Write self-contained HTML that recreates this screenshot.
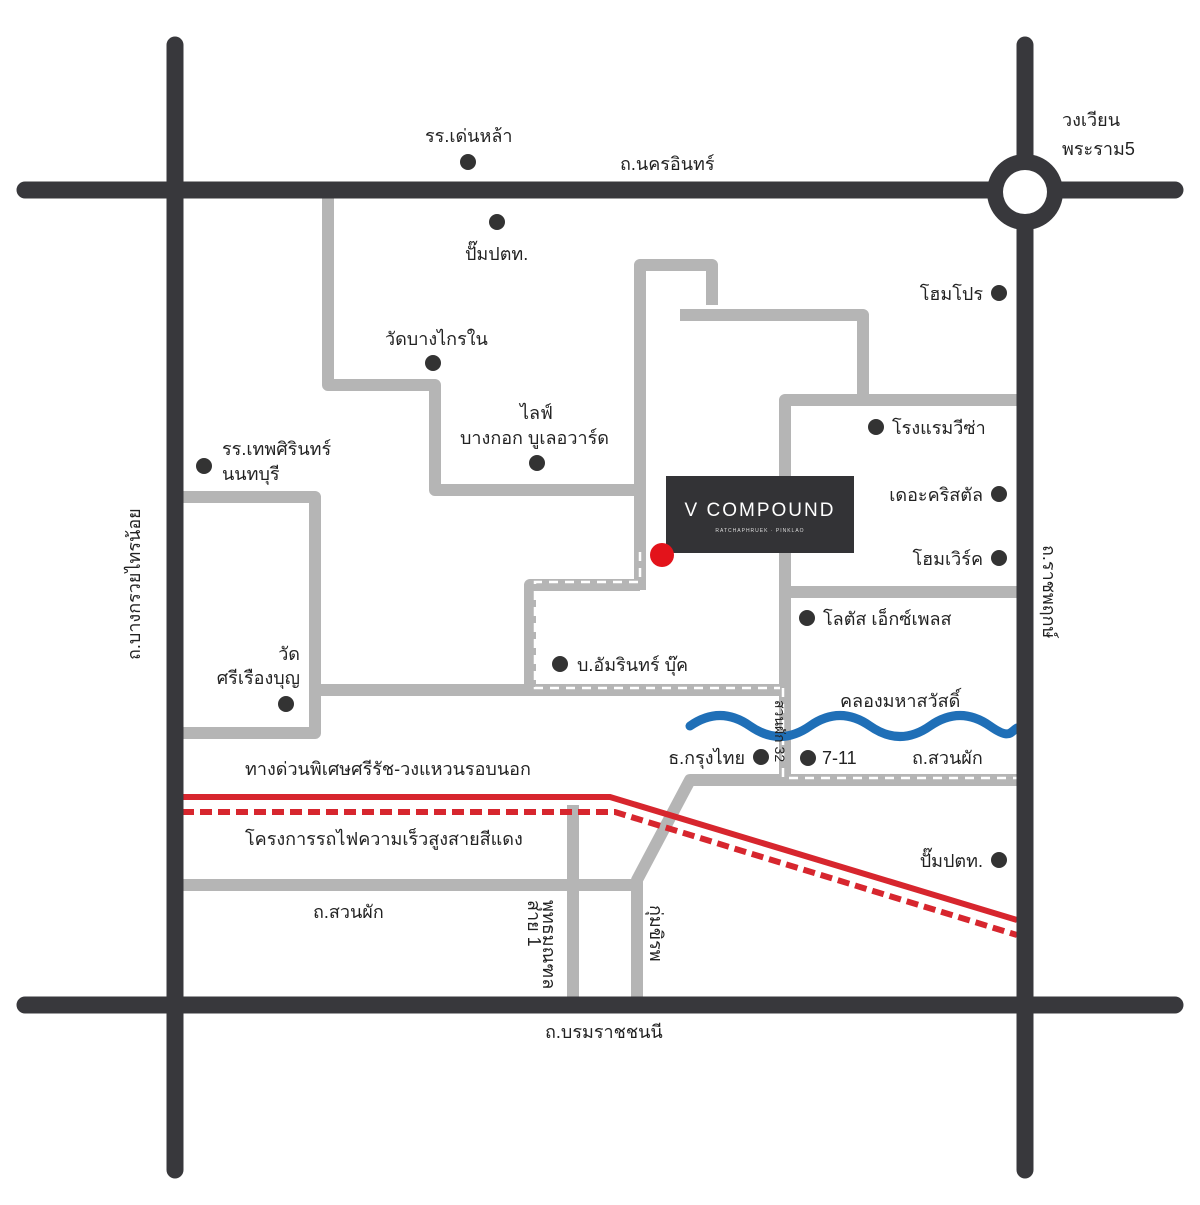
<!DOCTYPE html>
<html><head><meta charset="utf-8"><style>
html,body{margin:0;padding:0;background:#fff}
svg text{font-family:"Liberation Sans","DejaVu Sans",sans-serif;font-size:18px;fill:#222}
</style></head><body>
<svg width="1200" height="1200" viewBox="0 0 1200 1200" xmlns="http://www.w3.org/2000/svg">
<g fill="none" stroke="#b5b5b5" stroke-width="12" stroke-linejoin="round">
<polyline points="328,195 328,385 435,385 435,490 637,490"/>
<polyline points="640,590 640,265 712,265 712,305"/>
<polyline points="680,315 863,315 863,395"/>
<polyline points="785,780 785,400 1017,400"/>
<line x1="785" y1="592" x2="1017" y2="592"/>
<polyline points="640,585 530,585 530,690 785,690"/>
<line x1="315" y1="690" x2="530" y2="690"/>
<polyline points="182,497 315,497 315,733 182,733"/>
<polyline points="1017,780 690,780 637,880 637,1000"/>
<line x1="182" y1="885" x2="637" y2="885"/>
<line x1="573" y1="805" x2="573" y2="1000"/>
</g>
<g fill="none" stroke="#fff" stroke-width="2.5" stroke-dasharray="9,7">
<polyline points="640,552 640,582 535,582 535,688 780,688"/>
<polyline points="783,688 783,778 1017,778"/>
</g>
<path d="M690,726 C710,712 730,712 750,726 S790,740 810,726 S850,712 870,726 S910,740 930,726 S970,712 990,726 S1010,732 1017,728" fill="none" stroke="#1f6fb7" stroke-width="9" stroke-linecap="round"/>
<polyline points="182,797 610,797 1017,920" fill="none" stroke="#d7262e" stroke-width="6"/>
<polyline points="182,812 615,812 1017,935" fill="none" stroke="#d7262e" stroke-width="6" stroke-dasharray="12,6"/>
<g stroke="#38383c" stroke-width="17" stroke-linecap="round">
<line x1="175" y1="45" x2="175" y2="1170"/>
<line x1="1025" y1="45" x2="1025" y2="1170"/>
<line x1="25" y1="190" x2="1175" y2="190"/>
<line x1="25" y1="1005" x2="1175" y2="1005"/>
</g>
<circle cx="1025" cy="192" r="38" fill="#38383c"/>
<circle cx="1025" cy="192" r="22" fill="#fff"/>
<rect x="666" y="476" width="188" height="77" fill="#333336"/>
<text x="760" y="516" text-anchor="middle" style="fill:#fff;font-size:19px;letter-spacing:2px">V COMPOUND</text>
<text x="760" y="532" text-anchor="middle" style="fill:#ddd;font-size:5px;letter-spacing:1px">RATCHAPHRUEK · PINKLAO</text>
<circle cx="662" cy="555" r="12" fill="#e3131b"/>
<g fill="#333">
<circle cx="468" cy="162" r="8"/><circle cx="497" cy="222" r="8"/><circle cx="433" cy="363" r="8"/>
<circle cx="537" cy="463" r="8"/><circle cx="204" cy="466" r="8"/><circle cx="286" cy="704" r="8"/>
<circle cx="560" cy="664" r="8"/><circle cx="999" cy="293" r="8"/><circle cx="876" cy="427" r="8"/>
<circle cx="999" cy="494" r="8"/><circle cx="999" cy="558" r="8"/><circle cx="807" cy="618" r="8"/>
<circle cx="761" cy="757" r="8"/><circle cx="808" cy="758" r="8"/><circle cx="999" cy="860" r="8"/>
</g>
<text x="425" y="142">รร.เด่นหล้า</text>
<text x="620" y="170">ถ.นครอินทร์</text>
<text x="465" y="260">ปั๊มปตท.</text>
<text x="385" y="345">วัดบางไกรใน</text>
<text x="520" y="419">ไลฟ์</text>
<text x="460" y="444">บางกอก บูเลอวาร์ด</text>
<text x="222" y="455">รร.เทพศิรินทร์</text>
<text x="222" y="480">นนทบุรี</text>
<text x="300" y="660" text-anchor="end">วัด</text>
<text x="300" y="684" text-anchor="end">ศรีเรืองบุญ</text>
<text x="577" y="671">บ.อัมรินทร์ บุ๊ค</text>
<text x="1062" y="126">วงเวียน</text>
<text x="1062" y="155">พระราม5</text>
<text x="983" y="300" text-anchor="end">โฮมโปร</text>
<text x="892" y="434">โรงแรมวีซ่า</text>
<text x="983" y="501" text-anchor="end">เดอะคริสตัล</text>
<text x="983" y="565" text-anchor="end">โฮมเวิร์ค</text>
<text x="823" y="625">โลตัส เอ็กซ์เพลส</text>
<text x="840" y="707">คลองมหาสวัสดิ์</text>
<text x="745" y="764" text-anchor="end">ธ.กรุงไทย</text>
<text x="822" y="764">7-11</text>
<text x="912" y="764">ถ.สวนผัก</text>
<text x="245" y="775">ทางด่วนพิเศษศรีรัช-วงแหวนรอบนอก</text>
<text x="245" y="845">โครงการรถไฟความเร็วสูงสายสีแดง</text>
<text x="983" y="867" text-anchor="end">ปั๊มปตท.</text>
<text x="313" y="918">ถ.สวนผัก</text>
<text x="545" y="1038">ถ.บรมราชชนนี</text>
<text transform="translate(140,660) rotate(-90)" style="font-size:18px">ถ.บางกรวยไทรน้อย</text>
<text transform="translate(1043,545) rotate(90)" style="font-size:18px">ถ.ราชพฤกษ์</text>
<text transform="translate(775,700) rotate(90)" style="font-size:14px">สวนผัก 32</text>
<text transform="translate(543,900) rotate(90)" style="font-size:18px">พุทธมณฑล</text>
<text transform="translate(528,900) rotate(90)" style="font-size:18px">สาย 1</text>
<text transform="translate(650,905) rotate(90)" style="font-size:18px">กุ่มขิรพ</text>
</svg>
</body></html>
